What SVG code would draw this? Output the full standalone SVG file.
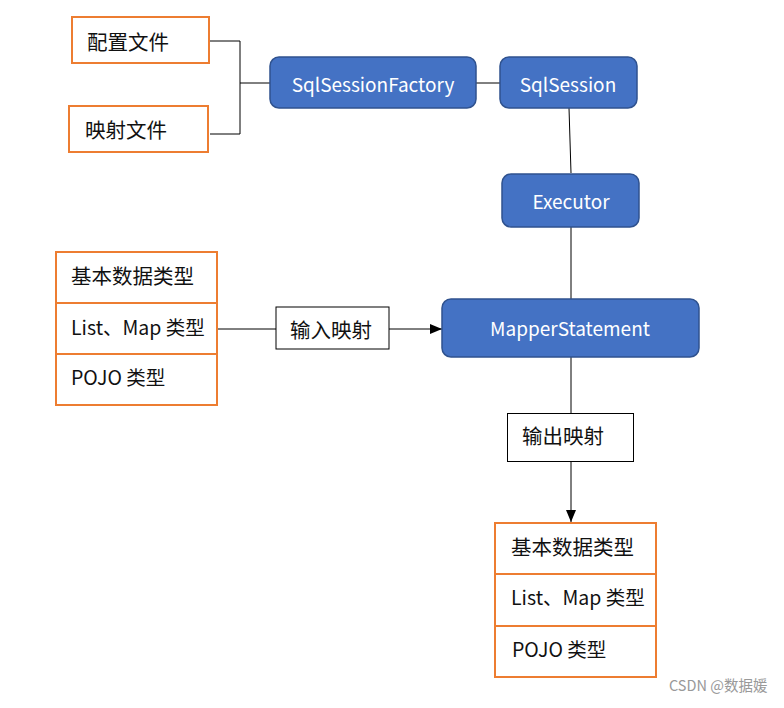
<svg xmlns="http://www.w3.org/2000/svg" width="784" height="708" viewBox="0 0 784 708">
<style>
.o{fill:#fff;stroke:#ED7D31;stroke-width:2}
.b{fill:#4472C4;stroke:#2F528F;stroke-width:1.5}
.w{fill:#fff;stroke:#000;stroke-width:1}
.t{font-family:"Noto Sans CJK SC","Noto Sans",sans-serif;font-size:19.5px;fill:#111;dominant-baseline:central}
.cj{font-size:20.5px}
.tw{font-family:"Noto Sans CJK SC","Noto Sans",sans-serif;font-size:19px;fill:#fff;dominant-baseline:central;text-anchor:middle}
.c{fill:none;stroke:#000;stroke-width:1}
</style>
<defs>
<marker id="ar" markerWidth="12" markerHeight="10" refX="12" refY="5" orient="auto" markerUnits="userSpaceOnUse">
<path d="M0,0 L12,5 L0,10 Z" fill="#000"/>
</marker>
</defs>
<rect width="784" height="708" fill="#fff"/>
<g id="connectors">
<path class="c" d="M209,41 H240 V134 H210"/>
<path class="c" d="M240,83 H270"/>
<path class="c" d="M476,83 H500"/>
<path class="c" d="M569,108 L571,173"/>
<path class="c" d="M571,227 V299"/>
<path class="c" d="M217,329 H276"/>
<path class="c" d="M389,329 H442" marker-end="url(#ar)"/>
<path class="c" d="M571,357 V413"/>
<path class="c" d="M571,462 V522" marker-end="url(#ar)"/>
</g>
<g id="config">
<rect class="o" x="72" y="17" width="137" height="46"/>
<text class="t cj" x="87" y="41">配置文件</text>
</g>
<g id="mapping">
<rect class="o" x="69" y="106" width="139" height="46"/>
<text class="t cj" x="85" y="129">映射文件</text>
</g>
<g id="sqlSessionFactory">
<rect class="b" x="270" y="57" width="206" height="51" rx="9"/>
<text class="tw" x="373" y="83">SqlSessionFactory</text>
</g>
<g id="sqlSession">
<rect class="b" x="500" y="57" width="137" height="51" rx="9"/>
<text class="tw" x="568" y="83">SqlSession</text>
</g>
<g id="executor">
<rect class="b" x="502" y="174" width="137" height="53" rx="9"/>
<text class="tw" x="571" y="200">Executor</text>
</g>
<g id="mapperStatement">
<rect class="b" x="442" y="299" width="257" height="58" rx="9"/>
<text class="tw" x="570" y="327">MapperStatement</text>
</g>
<g id="inputTypes">
<rect class="o" x="56" y="252" width="161" height="153"/>
<line x1="56" y1="303" x2="217" y2="303" stroke="#ED7D31" stroke-width="2"/>
<line x1="56" y1="354" x2="217" y2="354" stroke="#ED7D31" stroke-width="2"/>
<text class="t cj" x="71" y="275">基本数据类型</text>
<text class="t" x="71" y="326">List、Map 类型</text>
<text class="t" x="71" y="376">POJO 类型</text>
</g>
<g id="inputMapping">
<rect class="w" x="276" y="307" width="113" height="42"/>
<text class="t cj" x="290" y="329">输入映射</text>
</g>
<g id="outputMapping">
<rect class="w" x="507.5" y="413.5" width="126" height="48"/>
<text class="t cj" x="522" y="435">输出映射</text>
</g>
<g id="outputTypes">
<rect class="o" x="495" y="523" width="161" height="154"/>
<line x1="495" y1="574" x2="656" y2="574" stroke="#ED7D31" stroke-width="2"/>
<line x1="495" y1="626" x2="656" y2="626" stroke="#ED7D31" stroke-width="2"/>
<text class="t cj" x="511" y="546">基本数据类型</text>
<text class="t" x="511" y="596">List、Map 类型</text>
<text class="t" x="512" y="648">POJO 类型</text>
</g>
<text x="669" y="691" style="font-family:'Noto Sans CJK SC','Noto Sans',sans-serif;font-size:14.5px;fill:#999">CSDN @数据媛</text>
</svg>
